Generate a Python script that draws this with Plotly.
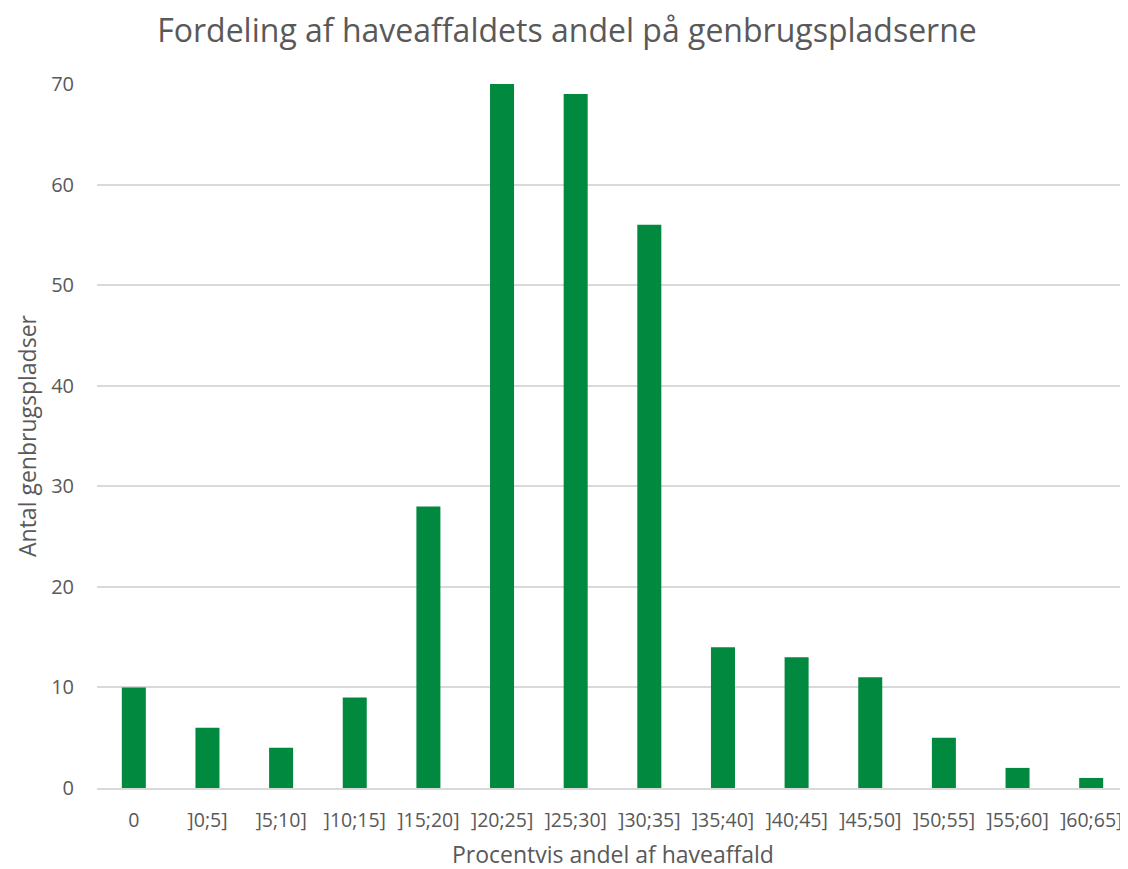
import plotly.graph_objects as go

categories = ["0", "]0;5]", "]5;10]", "]10;15]", "]15;20]", "]20;25]", "]25;30]",
              "]30;35]", "]35;40]", "]40;45]", "]45;50]", "]50;55]", "]55;60]", "]60;65]"]
values = [10, 6, 4, 9, 28, 70, 69, 56, 14, 13, 11, 5, 2, 1]

title_text = "Fordeling af haveaffaldets andel på genbrugspladserne"
x_title = "Procentvis andel af haveaffald"
y_title = "Antal genbrugspladser"

FONT = "Open Sans"
GREY = "#595959"

# page body has an 8px margin, so the figure is drawn 8px smaller
W, H = 1120, 861

fig = go.Figure(go.Bar(x=categories, y=values, marker_color="#00893F",
                       marker_line_width=0))

fig.update_layout(
    width=W, height=H,
    margin=dict(l=89, r=0, t=76, b=81),
    paper_bgcolor="white", plot_bgcolor="white",
    bargap=0.674,
    showlegend=False,
    font=dict(family=FONT, color=GREY, size=19),
    title=dict(text=title_text, x=559/W, xanchor="center", y=1-23/H, yanchor="middle",
               font=dict(family=FONT, size=32, color=GREY)),
    annotations=[
        dict(text=x_title, xref="paper", yref="paper", x=0.5, y=0, yshift=-66,
             xanchor="center", yanchor="middle", showarrow=False,
             font=dict(family=FONT, size=23, color=GREY)),
        dict(text=y_title, xref="paper", yref="paper", x=0, y=0.5, xshift=-70,
             xanchor="center", yanchor="middle", showarrow=False, textangle=-90,
             font=dict(family=FONT, size=23, color=GREY)),
    ],
)
fig.update_xaxes(
    type="category", showgrid=False, showline=True, linecolor="#D9D9D9", linewidth=2,
    ticks="", ticklabelstandoff=14, tickfont=dict(size=19.5, color=GREY),
)
fig.update_yaxes(
    range=[0, 70], tickvals=[0, 10, 20, 30, 40, 50, 60, 70],
    showgrid=True, gridcolor="#D9D9D9", gridwidth=1.5, zeroline=False, showline=False,
    ticks="", ticklabelstandoff=22, tickfont=dict(size=20, color=GREY),
)

fig.write_html("out.html")
